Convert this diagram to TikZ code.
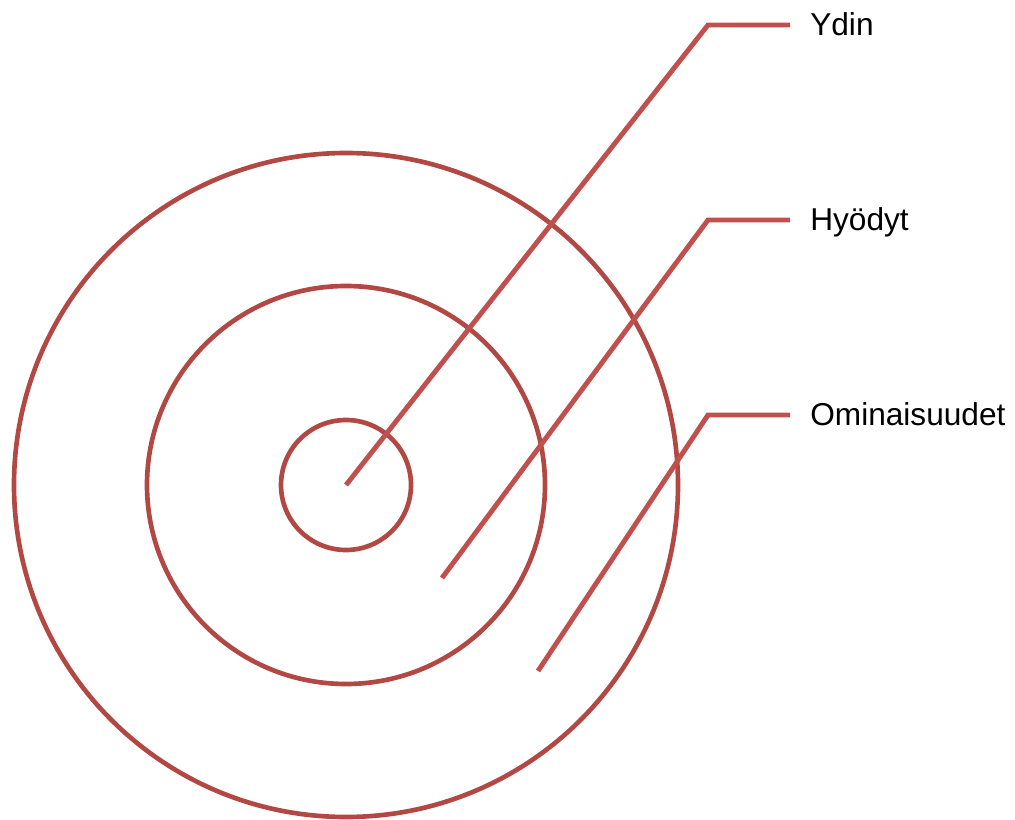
\documentclass[tikz,border=0pt]{standalone}
\usepackage{fontspec}
\setmainfont{Liberation Sans}
\usetikzlibrary{positioning}
\definecolor{ringred}{HTML}{B24844}
\definecolor{leadred}{HTML}{C0504D}
\begin{document}
\begin{tikzpicture}[
    x=0.025cm, y=-0.025cm,
    ring/.style={draw=ringred, line width=3.3pt},
    lead/.style={draw=leadred, line width=3.5pt},
    lbl/.style={anchor=base west, inner sep=0pt, font=\fontsize{22.5pt}{27pt}\selectfont}
]
\useasboundingbox (0,0) rectangle (1015,820);
\coordinate (ctr) at (346,485);
\draw[ring] (ctr) circle[radius=65];
\draw[ring] (ctr) circle[radius=199];
\draw[ring] (ctr) circle[radius=332];

\node[lbl] (core) at (810,36)  {Ydin};
\node[lbl] (bnft) at (810,231) {Hyödyt};
\node[lbl] (feat) at (810,426) {Ominaisuudet};

\coordinate (coreEnd) at (346,485);
\coordinate (bnftEnd) at (442,578);
\coordinate (featEnd) at (538,671);

\draw[lead] (coreEnd) -- (708,25)  -- ([xshift=-20*0.025cm]core.west |- 0,25);
\draw[lead] (bnftEnd) -- (708,220) -- ([xshift=-20*0.025cm]bnft.west |- 0,220);
\draw[lead] (featEnd) -- (708,415) -- ([xshift=-20*0.025cm]feat.west |- 0,415);
\end{tikzpicture}
\end{document}
